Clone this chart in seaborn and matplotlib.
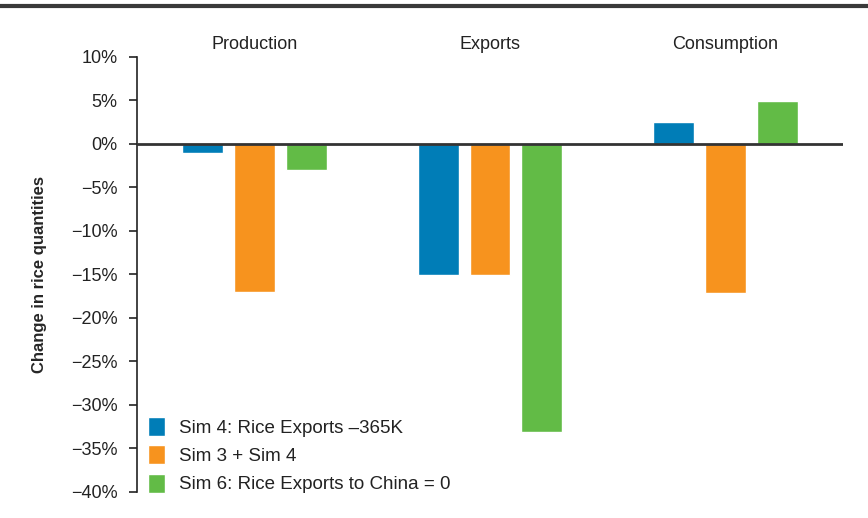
import matplotlib
matplotlib.use("Agg")
import matplotlib.pyplot as plt
import seaborn as sns
import pandas as pd

# Percentage change in rice quantities by simulation
categories = ["Production", "Exports", "Consumption"]
series_names = [
    "Sim 4: Rice Exports \u2013365K",
    "Sim 3 + Sim 4",
    "Sim 6: Rice Exports to China = 0",
]
sim4 = [-1.1, -15.1, 2.5]
sim3_4 = [-17.1, -15.1, -17.2]
sim6 = [-3.0, -33.1, 4.9]
yticks = [10, 5, 0, -5, -10, -15, -20, -25, -30, -35, -40]
colors = ["#007DB7", "#F7931E", "#62BB46"]

rows = []
for name, vals in zip(series_names, [sim4, sim3_4, sim6]):
    for cat, v in zip(categories, vals):
        rows.append({"category": cat, "series": name, "value": v})
df = pd.DataFrame(rows)

sns.set_theme(style="white")
plt.rcParams["font.family"] = ["Liberation Sans", "DejaVu Sans"]

fig = plt.figure(figsize=(8.68, 5.18), dpi=100)
ax = fig.add_axes([137 / 868, 1 - 491.7 / 518, (843 - 137) / 868, (491.7 - 56.7) / 518])

sns.barplot(data=df, x="category", y="value", hue="series", order=categories,
            hue_order=series_names, palette=colors, width=0.66, gap=0.21,
            saturation=1, ax=ax, legend=True)

ax.set_xlim(-0.5, 2.5)
ax.set_ylim(-40, 10)
ax.set_yticks(yticks)
ax.set_yticklabels([f"{t}%".replace("-", "\u2212") for t in yticks], fontsize=13, color="#222222")
ax.tick_params(axis="y", left=True, length=6, width=1.2, color="#222222", pad=8)

ax.xaxis.tick_top()
ax.tick_params(axis="x", top=False, bottom=False, labelsize=13, pad=-3, colors="#222222")
ax.set_xlabel("")
ax.set_ylabel("Change in rice quantities", fontsize=12, fontweight="bold", labelpad=17)

for s in ["top", "right", "bottom"]:
    ax.spines[s].set_visible(False)
ax.spines["left"].set_color("#222222")
ax.spines["left"].set_linewidth(1.2)

ax.axhline(0, color="#333333", linewidth=2, zorder=5)

leg = ax.legend(loc="lower left", bbox_to_anchor=(0.0156, -0.004), frameon=False,
                borderpad=0, borderaxespad=0,
                fontsize=13.5, handlelength=0.9, handleheight=1.2,
                handletextpad=0.75, labelspacing=0.45)
for t in leg.get_texts():
    t.set_color("#222222")

# Rule across the top of the figure
fig.add_artist(plt.Line2D([0, 1], [1 - 5.5 / 518, 1 - 5.5 / 518], color="#3a3a3a",
                          linewidth=3, transform=fig.transFigure))

fig.savefig("out.png", dpi=100, facecolor="white")
